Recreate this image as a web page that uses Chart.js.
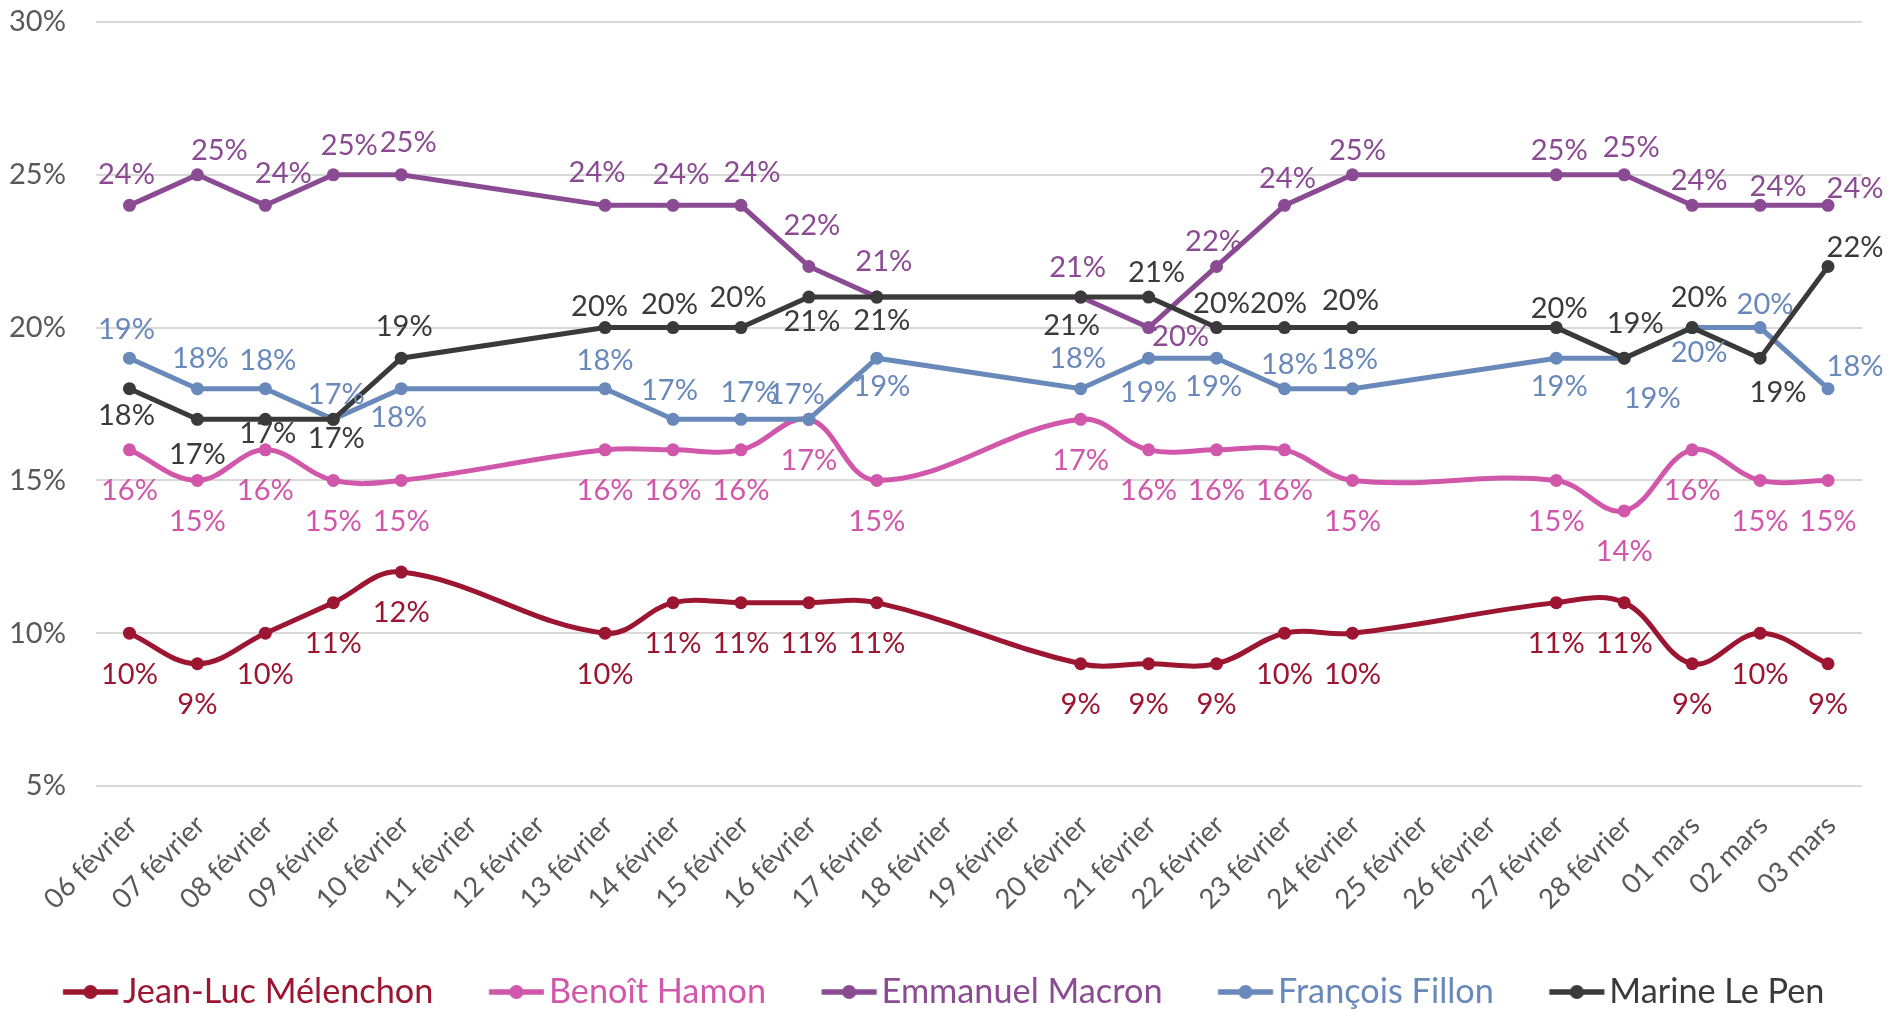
<!DOCTYPE html>
<html>
<head>
<meta charset="utf-8">
<script src="https://cdn.jsdelivr.net/npm/chart.js@4.4.1/dist/chart.umd.min.js"></script>
<style>
html,body{margin:0;padding:0;background:#ffffff;}
#wrap{width:1902px;height:1010px;}
</style>
</head>
<body>
<div id="wrap"><canvas id="c" width="1902" height="1010"></canvas></div>
<script>
// ---------------- DATA ----------------
const categories = ['06 février','07 février','08 février','09 février','10 février','11 février','12 février',
  '13 février','14 février','15 février','16 février','17 février','18 février','19 février','20 février',
  '21 février','22 février','23 février','24 février','25 février','26 février','27 février','28 février',
  '01 mars','02 mars','03 mars'];
const seriesNames = ['Jean-Luc Mélenchon','Benoît Hamon','Emmanuel Macron','François Fillon','Marine Le Pen'];
const melenchon = [10,9,10,11,12,null,null,10,11,11,11,11,null,null,9,9,9,10,10,null,null,11,11,9,10,9];
const hamon     = [16,15,16,15,15,null,null,16,16,16,17,15,null,null,17,16,16,16,15,null,null,15,14,16,15,15];
const macron    = [24,25,24,25,25,null,null,24,24,24,22,21,null,null,21,20,22,24,25,null,null,25,25,24,24,24];
const fillon    = [19,18,18,17,18,null,null,18,17,17,17,19,null,null,18,19,19,18,18,null,null,19,19,20,20,18];
const lepen     = [18,17,17,17,19,null,null,20,20,20,21,21,null,null,21,21,20,20,20,null,null,20,19,20,19,22];
const yTickValues = [5,10,15,20,25,30];

// ---------------- STYLE ----------------
const colors = ['#9C1631','#D157AB','#8A4B92','#6A89BB','#3A3A3A'];
const smooth = [0.38,0.38,0,0,0];
const drawOrder = [5,4,3,2,1];
const FONT = 'Lato';

// label offsets (px, relative to point) – positions only
const defaultBelow = [0,40];
const macronLabelPos = [[-3,-31.5],[22,-25],[18,-33],[16,-30.5],[7,-33],null,null,[-8,-34],[8,-32],[11,-34],[3,-41.5],[7,-36],null,null,[-3,-30],[32,7.5],[-3,-26],[3,-28],[5,-25],null,null,[3,-25],[7,-28],[7,-26],[18,-20],[27,-18]];
const fillonLabelPos = [[-3,-30],[3,-31],[2.5,-29],[3,-25.6],[-2.6,28],null,null,[0,-29],[-3.5,-29.6],[8,-27.6],[-12.6,-26],[5,27.7],null,null,[-3,-31.4],[0,33.7],[-3,27.7],[5,-25.4],[-3,-30.4],null,null,[3,27],[28,39],[7,24],[5,-24.3],[27,-22.7]];
const lepenLabelPos = [[-3,26],[0,34],[2.5,13],[3,18],[3,-33],null,null,[-5.5,-22],[-3.5,-24.5],[-3,-31],[3,24],[5,23],null,null,[-9,28],[8,-25],[5,-24.6],[-6,-25],[-2,-27.6],null,null,[3,-20],[11,-36],[7,-31],[18,33.5],[27,-20]];
const labelPositions = [null, null, macronLabelPos, fillonLabelPos, lepenLabelPos];

// font sizing from measured reference widths
const mc = document.createElement('canvas').getContext('2d');
function fitSize(text, target, base){ mc.font = base + 'px ' + FONT; return base * target / mc.measureText(text).width; }
const clamp = (v,a,b)=>Math.max(a,Math.min(b,v));
const labelFs = clamp(fitSize('24%', 57, 26), 22, 32);
const xTickFs = clamp(fitSize('06 février', 118, 26), 20, 32);
let legendFs;
{ mc.font = '30px ' + FONT; let t = 0; seriesNames.forEach(n => t += mc.measureText(n).width); legendFs = clamp(30 * 1240 / t, 26, 36); }

// layout geometry
const plotTop = 22;
const legendPad = 10;
const legendCenterY = 992;
const legendTop = legendCenterY - legendPad - legendFs/2;
const legendH = legendFs + legendPad + 10;
const layoutBottom = 1010 - (legendTop + legendH);
const plotBottom = 786;
const xAxisH = legendTop - plotBottom;

// legend marker canvases
const markerLen = 55, markerLead = 45.5;
const boxW = (markerLead + markerLen + 5) - legendFs/2;
function makeMarker(color){
  const C = Math.ceil(2*((markerLead + markerLen) - boxW/2)) + 4;
  const c = document.createElement('canvas');
  c.width = C; c.height = 20;
  const g = c.getContext('2d');
  const relLeft = boxW/2 - C/2;
  const x0 = markerLead - relLeft, x1 = markerLead + markerLen - relLeft;
  g.strokeStyle = color; g.lineWidth = 5.5; g.lineCap = 'butt';
  g.beginPath(); g.moveTo(x0, 10); g.lineTo(x1, 10); g.stroke();
  g.fillStyle = color; g.beginPath(); g.arc((x0+x1)/2, 10, 7, 0, Math.PI*2); g.fill();
  return c;
}
const markers = colors.map(makeMarker);

const seriesData = [melenchon, hamon, macron, fillon, lepen];
const datasets = seriesData.map((d, i) => ({
  label: seriesNames[i],
  data: d,
  borderColor: colors[i],
  backgroundColor: colors[i],
  pointBackgroundColor: colors[i],
  pointBorderColor: colors[i],
  pointBorderWidth: 0,
  pointRadius: 6.5,
  borderWidth: 5,
  tension: smooth[i],
  spanGaps: true,
  fill: false,
  order: drawOrder[i]
}));

const pointLabels = {
  id: 'pointLabels',
  afterDatasetsDraw(chart){
    const ctx = chart.ctx;
    ctx.save();
    ctx.font = labelFs + 'px ' + FONT;
    ctx.textAlign = 'center';
    ctx.textBaseline = 'alphabetic';
    const cap = 0.7165 * labelFs;
    chart.data.datasets.forEach((ds, di) => {
      const meta = chart.getDatasetMeta(di);
      const pos = labelPositions[di];
      ctx.fillStyle = ds.borderColor;
      meta.data.forEach((pt, i) => {
        const v = ds.data[i];
        if (v === null || v === undefined) return;
        const o = (pos && pos[i]) || defaultBelow;
        ctx.fillText(v + '%', pt.x + o[0], pt.y + o[1] + cap/2);
      });
    });
    ctx.restore();
  }
};

new Chart(document.getElementById('c'), {
  type: 'line',
  data: { labels: categories, datasets },
  plugins: [pointLabels],
  options: {
    responsive: false,
    devicePixelRatio: 1,
    animation: false,
    events: [],
    layout: { padding: { top: plotTop, left: 7.5, right: 40, bottom: layoutBottom } },
    plugins: {
      tooltip: { enabled: false },
      legend: {
        position: 'bottom',
        align: 'start',
        labels: {
          usePointStyle: true,
          pointStyleWidth: boxW,
          padding: legendPad,
          font: { family: FONT, size: legendFs },
          generateLabels: (chart) => chart.data.datasets.map((ds, i) => ({
            text: ds.label,
            fontColor: ds.borderColor,
            fillStyle: ds.borderColor,
            strokeStyle: ds.borderColor,
            lineWidth: 0,
            pointStyle: markers[i],
            hidden: false,
            datasetIndex: i
          }))
        }
      }
    },
    scales: {
      x: {
        offset: true,
        grid: { display: false },
        border: { display: false },
        ticks: {
          autoSkip: false,
          minRotation: 45,
          maxRotation: 45,
          padding: 15,
          labelOffset: 3,
          color: '#595959',
          font: { family: FONT, size: xTickFs }
        },
        afterFit: (s) => { s.height = xAxisH; }
      },
      y: {
        min: yTickValues[0],
        max: yTickValues[yTickValues.length - 1],
        afterBuildTicks: (s) => { s.ticks = yTickValues.map(v => ({ value: v })); },
        grid: { color: '#D9D9D9', lineWidth: 2, drawTicks: false },
        border: { display: false },
        ticks: {
          padding: 29.5,
          color: '#595959',
          font: { family: FONT, size: labelFs },
          callback: (v) => v + '%'
        },
        afterFit: (s) => { s.width = 88; s.paddingTop = 0; s.paddingBottom = 0; }
      }
    }
  }
});
</script>
</body>
</html>
